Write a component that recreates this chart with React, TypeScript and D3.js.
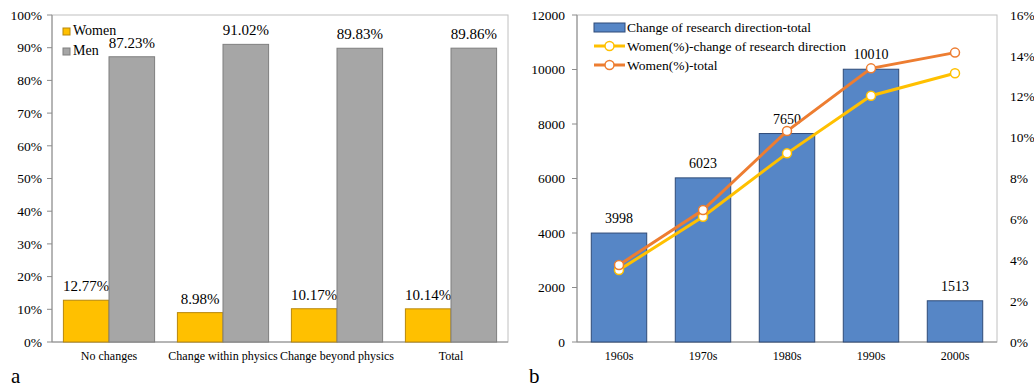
import React from 'react';
import * as d3 from 'd3';

// panel a
const groups = ['No changes', 'Change within physics', 'Change beyond physics', 'Total'];
const genders = ['Women', 'Men'];
const womenShare = [0.1277, 0.0898, 0.1017, 0.1014];
const menShare = [0.8723, 0.9102, 0.8983, 0.8986];
const pctTicks = [0, 0.1, 0.2, 0.3, 0.4, 0.5, 0.6, 0.7, 0.8, 0.9, 1];

// panel b
const decades = ['1960s', '1970s', '1980s', '1990s', '2000s'];
const changeTotal = [3998, 6023, 7650, 10010, 1513];
const womenChange = [0.0352, 0.0613, 0.0923, 0.1205, 0.1315];
const womenTotal = [0.0377, 0.0646, 0.1032, 0.1339, 0.1416];
const countTicks = [0, 2000, 4000, 6000, 8000, 10000, 12000];
const rightTicks = [0, 0.02, 0.04, 0.06, 0.08, 0.1, 0.12, 0.14, 0.16];

const FONT = 'Liberation Serif, Times New Roman, DejaVu Serif, serif';
const frameColor = '#c0c0c0';
const axisColor = '#8c8c8c';
const gold = '#ffc000';
const grey = '#a6a6a6';
const blue = '#5686c6';
const orange = '#ed7d31';

function PanelA() {
  const left = 52, right = 508, top = 15, bottom = 342;
  const x0 = d3.scaleBand<string>().domain(groups).range([left, right]).paddingInner(0.2).paddingOuter(0.1);
  const x1 = d3.scaleBand<string>().domain(genders).range([0, x0.bandwidth()]);
  const y = d3.scaleLinear().domain([0, 1]).range([bottom, top]);
  const fmt = (v: number) => (v * 100).toFixed(2) + '%';
  const series = [
    { key: 'Women', values: womenShare, fill: gold, stroke: '#b8870a' },
    { key: 'Men', values: menShare, fill: grey, stroke: '#7f7f7f' },
  ];
  return (
    <g>
      <rect x={left} y={top} width={right - left} height={bottom - top} fill="none" stroke={frameColor} />
      <line x1={left} x2={left} y1={top} y2={bottom} stroke={axisColor} />
      <line x1={left} x2={right} y1={bottom} y2={bottom} stroke={axisColor} />
      {pctTicks.map(t => (
        <g key={t}>
          <line x1={left - 5} x2={left} y1={y(t)} y2={y(t)} stroke={axisColor} />
          <text x={42} y={y(t)} dy="0.35em" textAnchor="end" fontSize={13.5}>{d3.format('.0%')(t)}</text>
        </g>
      ))}
      {series.map(s =>
        groups.map((g, i) => {
          const bx = (x0(g) as number) + (x1(s.key) as number);
          const v = s.values[i];
          return (
            <g key={s.key + g}>
              <rect x={bx} y={y(v)} width={x1.bandwidth()} height={bottom - y(v)} fill={s.fill} stroke={s.stroke} strokeWidth={1} />
              <text x={bx + x1.bandwidth() / 2} y={y(v) - 9} textAnchor="middle" fontSize={15}>{fmt(v)}</text>
            </g>
          );
        })
      )}
      {groups.map(g => (
        <text key={g} x={(x0(g) as number) + x0.bandwidth() / 2} y={360} textAnchor="middle" fontSize={12}>{g}</text>
      ))}
      {series.map((s, i) => (
        <g key={'lg' + s.key} transform={`translate(63,${28 + i * 20})`}>
          <rect x={0} y={0} width={7} height={7} fill={s.fill} stroke={s.stroke} />
          <text x={10} y={7} fontSize={14}>{s.key}</text>
        </g>
      ))}
      <text x={11} y={383} fontSize={21}>a</text>
    </g>
  );
}

function PanelB() {
  const left = 577, right = 997, top = 15, bottom = 342;
  const x = d3.scaleBand<string>().domain(decades).range([left, right]).paddingInner(0.34).paddingOuter(0.17);
  const yL = d3.scaleLinear().domain([0, 12000]).range([bottom, top]);
  const yR = d3.scaleLinear().domain([0, 0.16]).range([bottom, top]);
  const cx = (d: string) => (x(d) as number) + x.bandwidth() / 2;
  const line = d3.line<number>().x((_, i) => cx(decades[i])).y(v => yR(v));
  const lines = [
    { key: 'Women(%)-change of research direction', values: womenChange, color: gold },
    { key: 'Women(%)-total', values: womenTotal, color: orange },
  ];
  return (
    <g>
      <rect x={left} y={top} width={right - left} height={bottom - top} fill="none" stroke={frameColor} />
      <line x1={left} x2={left} y1={top} y2={bottom} stroke={axisColor} />
      <line x1={left} x2={right} y1={bottom} y2={bottom} stroke={axisColor} />
      {countTicks.map(t => (
        <g key={t}>
          <line x1={left - 5} x2={left} y1={yL(t)} y2={yL(t)} stroke={axisColor} />
          <text x={565} y={yL(t)} dy="0.35em" textAnchor="end" fontSize={13.5}>{t}</text>
        </g>
      ))}
      {rightTicks.map(t => (
        <text key={t} x={1010} y={yR(t)} dy="0.35em" fontSize={13.5}>{d3.format('.0%')(t)}</text>
      ))}
      {decades.map((d, i) => (
        <g key={d}>
          <rect x={x(d)} y={yL(changeTotal[i])} width={x.bandwidth()} height={bottom - yL(changeTotal[i])} fill={blue} stroke="#2f4b78" />
          <text x={cx(d)} y={yL(changeTotal[i]) - 10} textAnchor="middle" fontSize={14}>{changeTotal[i]}</text>
          <text x={cx(d)} y={360} textAnchor="middle" fontSize={12}>{d}</text>
        </g>
      ))}
      {lines.map(l => (
        <g key={l.key}>
          <path d={line(l.values) as string} fill="none" stroke={l.color} strokeWidth={3} />
          {l.values.map((v, i) => (
            <circle key={i} cx={cx(decades[i])} cy={yR(v)} r={4.5} fill="#fff" stroke={l.color} strokeWidth={1.5} />
          ))}
        </g>
      ))}
      <g>
        <rect x={594} y={23} width={31} height={9} fill={blue} stroke="#2f4b78" />
        <text x={627} y={32} fontSize={13.5}>Change of research direction-total</text>
        {lines.map((l, i) => (
          <g key={'lg' + l.key} transform={`translate(594,${46 + i * 19})`}>
            <line x1={0} x2={31} y1={0} y2={0} stroke={l.color} strokeWidth={3} />
            <circle cx={15.5} cy={0} r={4.5} fill="#fff" stroke={l.color} strokeWidth={1.5} />
            <text x={33} y={5} fontSize={13.5}>{l.key}</text>
          </g>
        ))}
      </g>
      <text x={529} y={383} fontSize={21}>b</text>
    </g>
  );
}

export default function App() {
  return (
    <svg width={1034} height={387} style={{ position: 'absolute', left: 0, top: 0, background: '#fff', fontFamily: FONT }}
      fill="#000">
      <PanelA />
      <PanelB />
    </svg>
  );
}
